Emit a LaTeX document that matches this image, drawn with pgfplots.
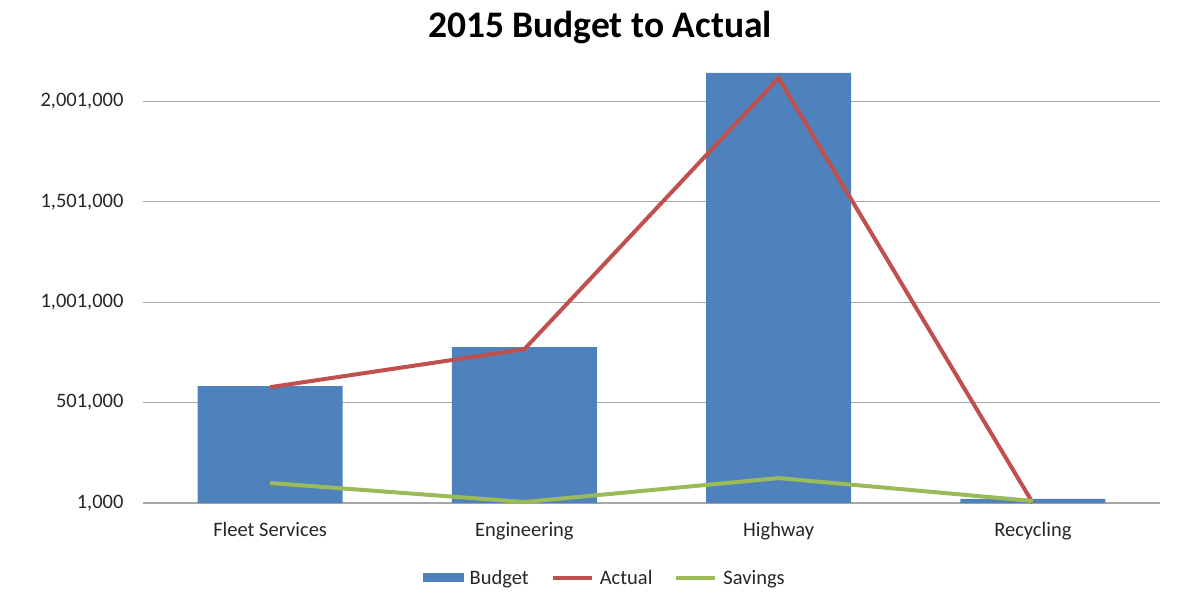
\documentclass[border=0pt]{standalone}
\usepackage{pgfplots}
\pgfplotsset{compat=1.18}
\usepackage{fontspec}
\setmainfont{Carlito}
\definecolor{cBudget}{HTML}{4F81BD}
\definecolor{cActual}{HTML}{C0504D}
\definecolor{cSavings}{HTML}{9BBB59}
\definecolor{cGrid}{HTML}{A6A6A6}
\definecolor{cText}{HTML}{262626}
\begin{document}
\begin{tikzpicture}
\path[use as bounding box] (0,0) rectangle (1183pt,597pt);
\node[font=\fontsize{37.5}{40}\selectfont\bfseries] at (600pt,569pt) {2015 Budget to Actual};
\begin{axis}[
  at={(143pt,94pt)}, anchor=south west,
  scale only axis, width=1017pt, height=430pt,
  xmin=-0.5, xmax=3.5, ymin=1000, ymax=2143000,
  xtick={0,1,2,3},
  xticklabels={Fleet Services,Engineering,Highway,Recycling},
  ytick={1000,501000,1001000,1501000,2001000},
  scaled y ticks=false,
  yticklabel style={/pgf/number format/fixed, /pgf/number format/precision=0,
    /pgf/number format/1000 sep={,}, /pgf/number format/assume math mode=true,
    xshift=-16pt},
  ticklabel style={font=\fontsize{20.5}{22}\selectfont, text=cText},
  xticklabel style={yshift=-16pt},
  axis line style={draw=none},
  major tick style={draw=none},
  ymajorgrids, major grid style={cGrid, line width=1.2pt},
  clip=false,
  legend style={at={(0.454,-0.174)}, anchor=center, draw=none, fill=none,
    legend columns=3, font=\fontsize{20.5}{22}\selectfont, text=cText,
    /tikz/every odd column/.append style={column sep=4pt},
    /tikz/every even column/.append style={column sep=20pt}},
]
\addplot[ybar, bar width=145pt, fill=cBudget, draw=none,
  legend image code/.code={\fill[cBudget] (0pt,-4.5pt) rectangle (41pt,4.5pt);}]
  coordinates {(0,583000) (1,777000) (2,2143000) (3,21000)};
\addlegendentry{Budget}
\addplot[cActual, line width=4pt, sharp plot,
  legend image code/.code={\draw[cActual, line width=4pt] (0pt,0pt) -- (39pt,0pt);}]
  coordinates {(0,578000) (1,767000) (2,2118000) (3,1000)};
\addlegendentry{Actual}
\addplot[cSavings, line width=4pt, sharp plot,
  legend image code/.code={\draw[cSavings, line width=4pt] (0pt,0pt) -- (39pt,0pt);}]
  coordinates {(0,100500) (1,6000) (2,125000) (3,11000)};
\addlegendentry{Savings}
\end{axis}
\end{tikzpicture}
\end{document}
